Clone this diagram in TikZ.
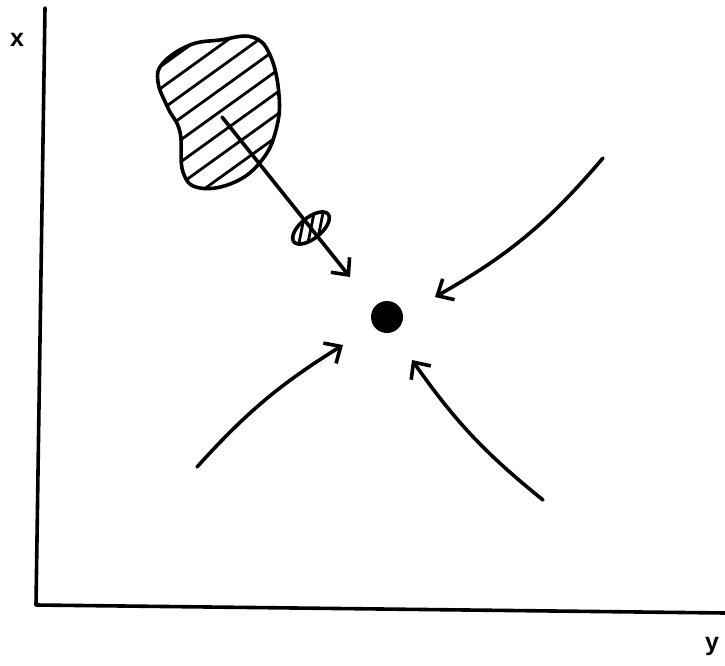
\documentclass[tikz,border=0pt]{standalone}
\usepackage{fontspec}
\setsansfont{Liberation Sans}
\usetikzlibrary{arrows.meta,shapes.geometric}

\begin{document}
\begin{tikzpicture}[x=1pt, y=-1pt, line width=3.6pt, line cap=round, line join=round,
	flow/.style={-{Straight Barb[length=13pt,width=24pt]}},
	hatch/.style={line width=2.8pt},
	every node/.style={font=\sffamily\bfseries\fontsize{25}{25}\selectfont}]
	\useasboundingbox (0,0) rectangle (725,666);
	\coordinate (xtop) at (45,8); \coordinate (origin) at (36,605); \coordinate (yend) at (725,613);
	\draw (xtop) -- (origin) -- (yend);
	\node (xlab) at (17,40) {x};
	\node (ylab) at (712,646) {y};
	\def\blobpath{plot[smooth cycle, tension=0.7] coordinates {(163,63) (190,45) (220,40) (252,37) (270,55) (279,95) (276,130) (262,160) (235,182) (200,188) (183,172) (180,132) (168,108) (158,82)}}
	\begin{scope}
		\clip \blobpath;
		\foreach \c in {160,182,...,400} {\draw[hatch] (150,{\c-108}) -- (290,{\c-208.8});}
	\end{scope}
	\draw \blobpath;
	\node[draw, ellipse, minimum width=44pt, minimum height=21pt, inner sep=0pt, rotate=39] (blip) at (311,228) {};
	\begin{scope}[shift={(blip.center)}]
		\clip[rotate=39] (0,0) ellipse [x radius=22pt, y radius=10.5pt];
		\foreach \d in {-18,-9,0,9,18} {\draw[hatch] ({\d-6},30) -- ({\d+6},-30);}
	\end{scope}
	\node[circle, fill, minimum size=32pt, inner sep=0pt] (sink) at (387,317) {};
	\coordinate (core) at (222,117); \coordinate (core-tip) at (350,277);
	\coordinate (ne) at (603,158); \coordinate (ne-tip) at (435,297);
	\coordinate (sw) at (197,467); \coordinate (sw-tip) at (343,345);
	\coordinate (se) at (543,500); \coordinate (se-tip) at (412,360);
	\draw[flow] (core) -- (core-tip);
	\draw[flow] (ne) to[bend left=10] (ne-tip);
	\draw[flow] (sw) to[bend left=8] (sw-tip);
	\draw[flow] (se) to[bend left=8] (se-tip);
\end{tikzpicture}
\end{document}
